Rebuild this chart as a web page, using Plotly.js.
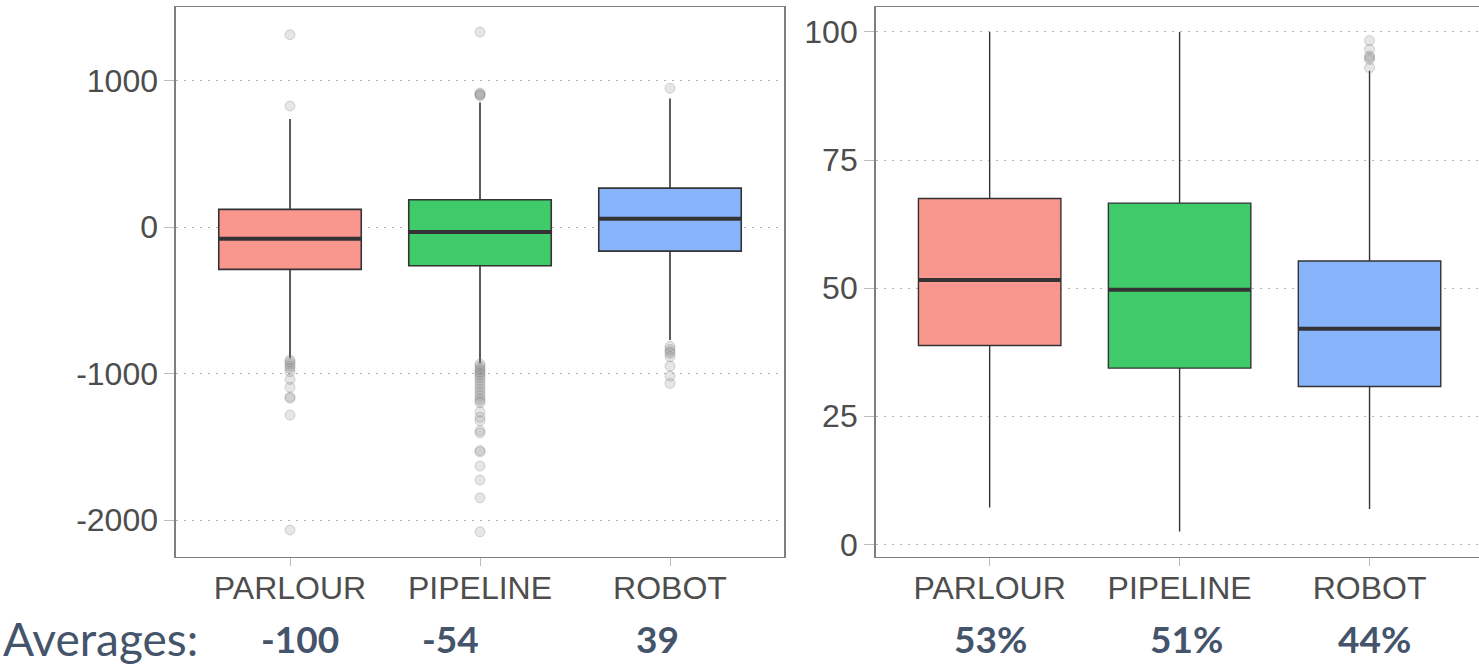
<!DOCTYPE html>
<html>
<head>
<meta charset="utf-8">
<script src="https://cdn.plot.ly/plotly-3.0.1.min.js"></script>
<style>
  html, body { margin: 0; padding: 0; overflow: hidden; background: #ffffff; }
  #chart { width: 1484px; height: 669px; }
</style>
</head>
<body>
<div id="chart"></div>
<script>
// ---------------- data ----------------
const categories = ['PARLOUR', 'PIPELINE', 'ROBOT'];

// left panel (difference)
const diffQ1 = [-289, -264, -164];
const diffMedian = [-80, -34, 57];
const diffQ3 = [121, 186, 266];
const diffLowerFence = [-896, -930, -771];
const diffUpperFence = [737, 851, 878];
const diffOutliersParlour = [1313, 826, -908, -920, -935, -950, -965, -988, -1040, -1094, -1160, -1168, -1283, -2068];
const diffOutliersPipeline = [1331, 895, 902, 908, 914, -935, -950, -965, -975, -990, -1000, -1015, -1030, -1050, -1070,
  -1090, -1110, -1130, -1150, -1170, -1185, -1200, -1261, -1299, -1322, -1390, -1405, -1525, -1535, -1631, -1727, -1848, -2080];
const diffOutliersRobot = [947, -815, -835, -851, -862, -885, -949, -1017, -1067];
const diffAverages = [-100, -54, 39];
const diffTickVals = [-2000, -1000, 0, 1000];
const diffTickText = ['-2000', '-1000', '0', '1000'];

// right panel (percent)
const pctQ1 = [38.8, 34.4, 30.8];
const pctMedian = [51.6, 49.7, 42.1];
const pctQ3 = [67.5, 66.6, 55.3];
const pctLowerFence = [7.2, 2.5, 6.9];
const pctUpperFence = [100, 100, 92.4];
const pctOutliersParlour = [];
const pctOutliersPipeline = [];
const pctOutliersRobot = [98.3, 96.6, 94.6, 95.0, 95.3, 93.0];
const pctAverages = [53, 51, 44];
const pctTickVals = [0, 25, 50, 75, 100];
const pctTickText = ['0', '25', '50', '75', '100'];

// ---------------- style ----------------
const fills = ['#F9978F', '#40CB6A', '#88B4FC'];
const boxWidth = 0.75;
const tickFont = { family: 'Liberation Sans, Arial, sans-serif', size: 32, color: '#4D4D4D' };
const avgColor = '#44546A';

const diffOutliers = [diffOutliersParlour, diffOutliersPipeline, diffOutliersRobot];
const pctOutliers = [pctOutliersParlour, pctOutliersPipeline, pctOutliersRobot];

const traces = [];
function addPanel(q1, med, q3, lo, hi, outs, xa, ya, lw) {
  categories.forEach((c, i) => {
    traces.push({
      type: 'box', xaxis: xa, yaxis: ya, x: [i],
      q1: [q1[i]], median: [med[i]], q3: [q3[i]],
      lowerfence: [lo[i]], upperfence: [hi[i]],
      width: boxWidth, whiskerwidth: 0, boxpoints: false,
      fillcolor: fills[i], line: { color: '#333333', width: lw },
      hoverinfo: 'skip', showlegend: false
    });
    traces.push({
      type: 'scatter', mode: 'lines', xaxis: xa, yaxis: ya,
      x: [i - boxWidth / 2, i + boxWidth / 2], y: [med[i], med[i]],
      line: { color: '#333333', width: 4 }, hoverinfo: 'skip', showlegend: false
    });
    if (outs[i].length) {
      traces.push({
        type: 'scatter', mode: 'markers', xaxis: xa, yaxis: ya,
        x: outs[i].map(() => i), y: outs[i],
        marker: { size: 10, color: 'rgba(130,130,130,0.2)', line: { color: 'rgba(120,120,120,0.28)', width: 1 } },
        hoverinfo: 'skip', showlegend: false
      });
    }
  });
}
addPanel(diffQ1, diffMedian, diffQ3, diffLowerFence, diffUpperFence, diffOutliers, 'x', 'y', 1.6);
addPanel(pctQ1, pctMedian, pctQ3, pctLowerFence, pctUpperFence, pctOutliers, 'x2', 'y2', 1.4);

const W = 1484, H = 669;
const xAxisBase = {
  range: [-0.6, 2.6], tickmode: 'array', tickvals: [0, 1, 2], ticktext: categories,
  showgrid: false, zeroline: false, showline: true, mirror: true,
  linecolor: '#808080', linewidth: 1.6, ticks: 'outside', ticklen: 8, tickcolor: '#BDBDBD', tickwidth: 1,
  tickfont: tickFont, ticklabelstandoff: -6, fixedrange: true
};
const yAxisBase = {
  tickmode: 'array', showgrid: true, gridcolor: '#B3B3B3', gridwidth: 1, griddash: '2px,6px',
  zeroline: false, showline: true, mirror: true, linecolor: '#808080', linewidth: 1.6,
  ticks: 'outside', ticklen: 10, tickcolor: '#BDBDBD', tickwidth: 1, tickfont: tickFont, fixedrange: true
};

const avgShiftLeft = [0.05, -0.153, -0.065];
const avgShiftRight = [0.005, 0.037, 0.027];
const avgY = 1 - 638 / H;
const annotations = [{
  xref: 'paper', yref: 'paper', x: 1 / W, y: avgY, xanchor: 'left', yanchor: 'middle',
  text: 'Averages:', showarrow: false, font: { family: 'Lato, Carlito, sans-serif', size: 46, color: avgColor }
}];
diffAverages.forEach((v, i) => annotations.push({
  xref: 'x', yref: 'paper', x: i + avgShiftLeft[i], y: avgY, xanchor: 'center', yanchor: 'middle',
  text: '<b>' + v + '</b>', showarrow: false, font: { family: 'Lato, Carlito, sans-serif', size: 37, color: avgColor }
}));
pctAverages.forEach((v, i) => annotations.push({
  xref: 'x2', yref: 'paper', x: i + avgShiftRight[i], y: avgY, xanchor: 'center', yanchor: 'middle',
  text: '<b>' + v + '%</b>', showarrow: false, font: { family: 'Lato, Carlito, sans-serif', size: 37, color: avgColor }
}));

const layout = {
  width: W, height: H, margin: { l: 0, r: 0, t: 0, b: 0, pad: 0 },
  paper_bgcolor: '#ffffff', plot_bgcolor: '#ffffff', showlegend: false,
  xaxis: Object.assign({}, xAxisBase, { domain: [176 / W, 784 / W], anchor: 'y' }),
  yaxis: Object.assign({}, yAxisBase, { domain: [1 - 556.7 / H, 1 - 7.3 / H], range: [-2250, 1500], tickvals: diffTickVals, ticktext: diffTickText, anchor: 'x' }),
  xaxis2: Object.assign({}, xAxisBase, { domain: [875.7 / W, 1483.5 / W], anchor: 'y2' }),
  yaxis2: Object.assign({}, yAxisBase, { domain: [1 - 556.7 / H, 1 - 7.3 / H], range: [-2.4, 104.8], tickvals: pctTickVals, ticktext: pctTickText, anchor: 'x2' }),
  annotations: annotations
};

Plotly.newPlot('chart', traces, layout, { displayModeBar: false, staticPlot: true });
</script>
</body>
</html>
